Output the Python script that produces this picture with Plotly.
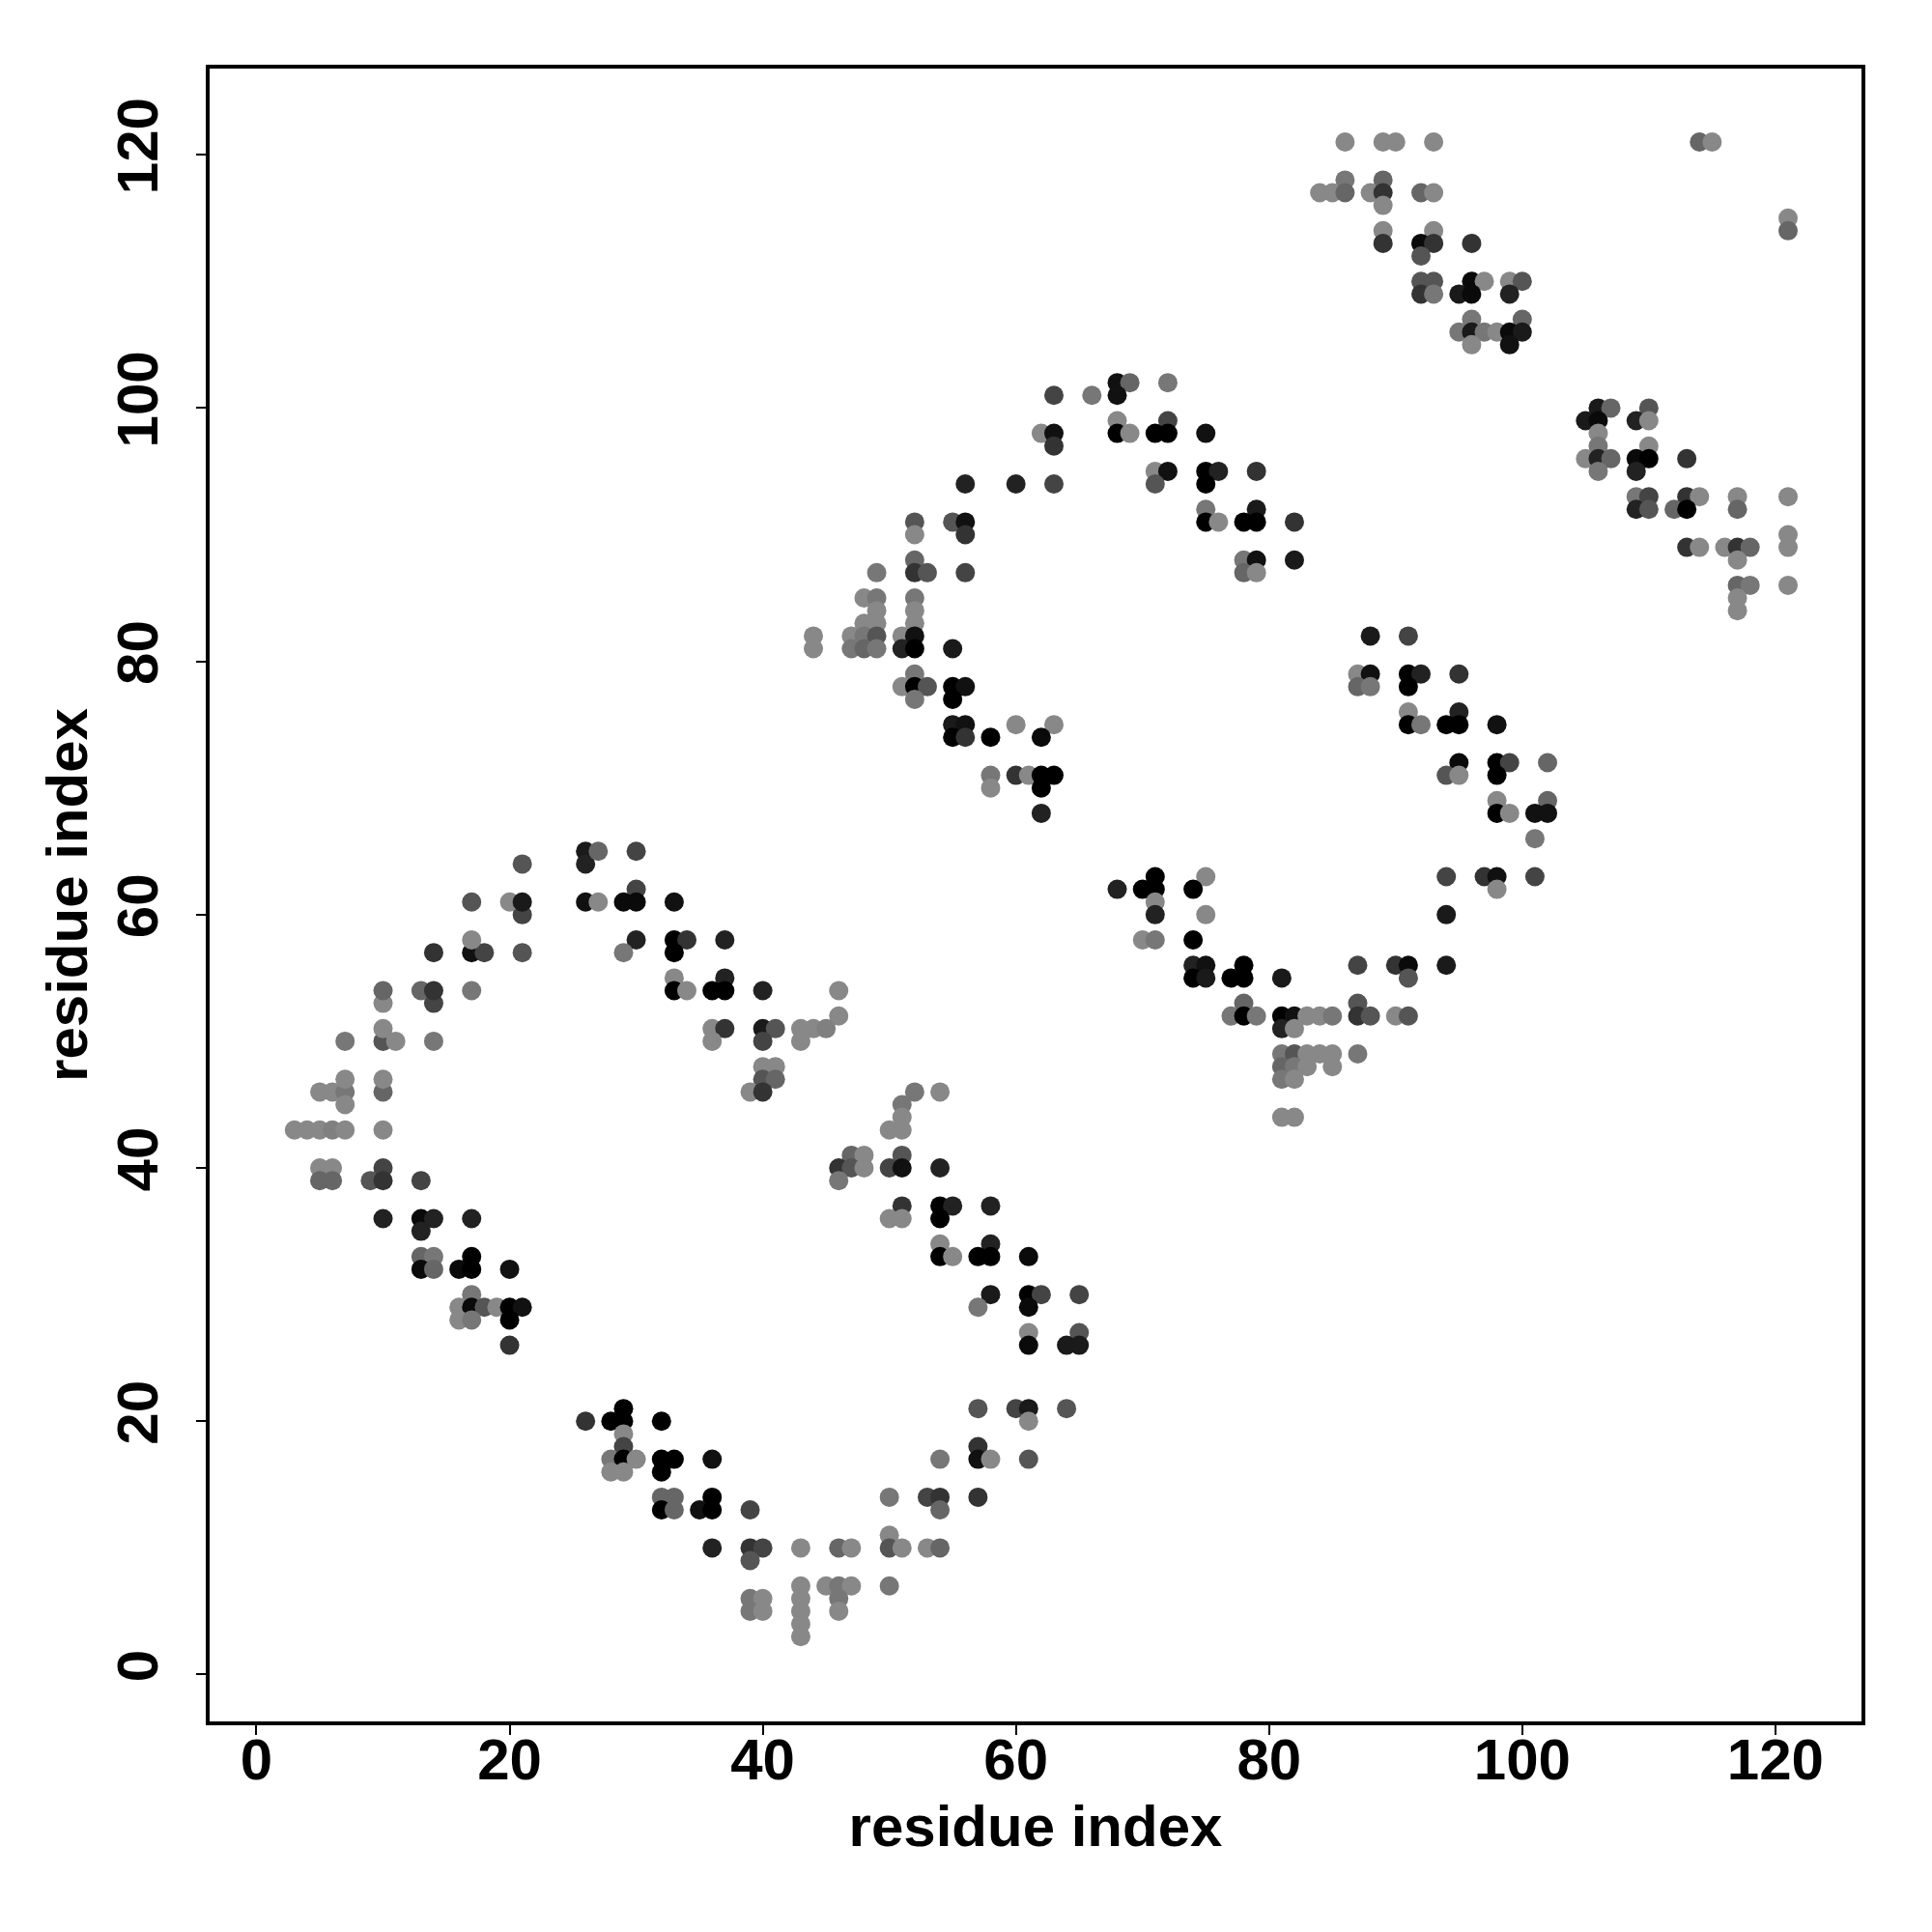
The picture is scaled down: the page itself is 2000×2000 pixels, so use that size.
import plotly.graph_objects as go

# ---- contact points: residue i (x), residue j (y), shade (0 = black ... 8 = light grey) ----
# cluster A (lower-left)
A_i = [3,4,5,6,7,10,
       5,6,7,10, 7,10, 7,
       7,10,11,14, 10,
       10,14, 10,13,14,17,
       14,17,18,21, 17,
       21, 17,20,21,26,
       21, 26,26,
       5,6,10, 5,6,9,10,13,
       10,13,14,17, 13,
       13,14,17, 13,14,16,17,20,
       17, 16,17,18,19,20,21, 16,17,20, 20,
       27,30,30, 27,29,30,33, 30,33,34,37, 29,33, 33,37,
       33,34,36,37,40,46, 46, 36,37,40,41,43,44,45, 36,40,43, 40,41, 40,41, 39,40]
A_j = [43,43,43,43,43,43,
       46,46,46,46, 47,47, 45,
       50,50,50,50, 51,
       53,53, 54,54,54,54,
       57,57,57,57, 58,
       60, 61,61,61,61,
       64, 65,64,
       40,40,40, 39,39,39,39,39,
       36,36,36,36, 35,
       33,33,33, 32,32,32,32,32,
       30, 29,29,29,29,29,29, 28,28,28, 26,
       65,65,62, 61,61,61,61, 58,58,58,58, 57,57, 55,55,
       54,54,54,54,54,54, 52, 51,51,51,51,51,51,51, 50,50,50, 48,48, 47,47, 46,46]
A_s = [8,8,8,7.5,8,8,
       8,8,7,6, 8,8, 8,
       7,5,8,7, 8,
       8,4, 6,6,3,7,
       3,1,4,5, 8,
       4, 5,8,1.5,1,
       5, 1.5,2,
       8,8,4, 6,6,5,3,4,
       2,0.6,2,2, 2,
       6,7,0, 0.6,6,0.6,0,1,
       7, 8,0.6,5,8,0,1, 8,7,0, 3,
       6,4,4, 8,0.6,0.6,1, 2,0,3,2, 7,0, 8,2,
       0,8,0,0,2,8, 8, 8,3,1.5,5,8,8,7.5, 8,4,8, 8,8, 5,6, 8,3]

# cluster B (bottom)
B_i = [29, 26,28,29,32, 29, 29,
       28,29,30,32,33,36, 28,29,32,
       32,33,36, 32,33,35,36,39,
       36,39,40,43, 39,
       43,45, 39,40,43, 39,40,43, 43, 43,
       52,54, 51, 51, 50,51,
       47,48,51, 46,47,48,50,51,54, 46,
       51,54,55,58, 50,51,54, 54,58,
       54,55,57,58,61, 58,61,62,65, 57,61, 61,65, 61,64,65,
       57,60,61,64, 61, 57, 54,57,58,61,
       50,53,54,57, 54, 50, 46,47,50,51,53,54,
       46,47,50, 46, 46]
B_j = [21, 20,20,20,20, 19, 18,
       17,17,17,17,17,17, 16,16,16,
       14,14,14, 13,13,13,13,13,
       10,10,10,10, 9,
       7,7, 6,6,6, 5,5,5, 4, 3,
       46,46, 45, 44, 43,43,
       41,41,41, 40,40,40,40,40,40, 39,
       37,37,37,37, 36,36,36, 34,34,
       33,33,33,33,33, 30,30,30,30, 29,29, 27,27, 26,26,26,
       21,21,21,21, 20, 18, 17,17,17,17,
       14,14,14,14, 13, 11, 10,10,10,10,10,10,
       7,7,7, 6, 5]
B_s = [0, 3,0,0,0, 8, 4,
       7,0,8,0,0,1, 8,8,0,
       6,6,0, 0,6,1,0,4,
       2,3,4,8, 5,
       8,8, 7,8,8, 7,8,8, 8, 8,
       7,8, 7, 8, 8,8,
       6,8,5, 3,5,8,4,1,2, 7,
       3,0,2,2, 8,8,0, 8,2,
       0,8,0,0,0.6, 1.5,0,4,4, 7,0.6, 8,5, 0.6,1.5,1.5,
       5,4,1.5,5, 8, 3, 7,1,8,5,
       7,4,3,3, 6, 8, 6,8,5,8,8,6,
       7,8,7, 7, 8]

# cluster C (middle)
C_i = [63, 62,63, 63, 56,60,63, 52,55,56, 52,56, 52,
       49,52,53,56, 48,49,52, 49,52, 48,49,52,
       44,47,48,49,51,52, 44,47,48,49,51,52,55,
       52, 51,52,53,55,56, 52,55,
       55,56,60,63, 55,56,58,62,
       58,60,61,62,63, 58,62, 62,
       68,69,72, 66,68, 68,72, 68,69,71,72,75,
       71,72,75,76,79, 71,75, 75,79, 75,76,78,79,82,
       78,79,82, 78,79]
C_j = [101, 98,98, 97, 94,94,94, 91,91,91, 90,90, 88,
       87,87,87,87, 85,85,85, 84,84, 83,83,83,
       82,82,82,82,82,82, 81,81,81,81,81,81,81,
       79, 78,78,78,78,78, 77,77,
       75,75,75,75, 74,74,74,74,
       71,71,71,71,71, 70,70, 68,
       102,102,102, 101,101, 99,99, 98,98,98,98,98,
       95,95,95,95,95, 94,94, 92,92, 91,91,91,91,91,
       88,88,88, 87,87]
C_s = [4, 8,1, 3, 2,2,4, 5,5,1, 8,3, 6,
       7,3,5,4, 8,7,7, 8,8, 8,8,8,
       8,8,7,5,8,1, 8,7,6,7,2,0,1.5,
       7, 8,0,5,0,1, 7,0,
       1.5,1,8,8, 0,3,0,0.6,
       7,3,8,0,0, 8,0, 2,
       1,6,7, 7,1, 8,4, 0,8,0,0,1,
       8,1,0,2,3, 5,0, 7,1.5, 0,8,0,0,3,
       7,1,1.5, 6,8]

# cluster D (right-middle)
D_i = [71,75, 68,70,71,74, 71, 71,75, 70,71,74,
       74,75,78, 74,75,77,78,81, 78,
       77,78,79,81,82,83,84,85, 81,82,
       81,82,83,84,85, 81,82,83,85, 81,82, 81,82,
       88,91, 87,88,91,92,95, 87,88,91, 91,95,
       91,92,94,95,98, 95,98,99,102, 94,95,98, 98,102,
       98,99,101,102, 101, 94,97,98,101, 98, 94,
       87,90,91,94, 91, 87, 87,88,90,91, 87]
D_j = [63,63, 62,62,62,62, 61, 60,60, 58,58,58,
       56,56,56, 55,55,55,55,55, 53,
       52,52,52,52,52,52,52,52, 51,51,
       49,49,49,49,49, 48,48,48,48, 47,47, 44,44,
       82,82, 79,79,79,79,79, 78,78,78, 76,76,
       75,75,75,75,75, 72,72,72,72, 71,71,71, 69,69,
       68,68,68,68, 66, 63,63,63,63, 62, 60,
       56,56,56,56, 55, 53, 52,52,52,52, 49]
D_s = [0,8, 2,0,0,0, 8, 2,8, 8,7,0,
       2,1,0, 0,1.5,0,0,1.5, 6,
       7,0,7,0,1,8,8,7, 2,8,
       7,5,8,8,8, 6,7,8,8, 7,8, 8,8,
       1.5,4, 8,1,0,2,3, 6,7,0, 8,2,
       0,7,0,0,1, 0.6,0,4,6, 5,8,0, 8,6,
       0,8,1,1, 7, 4,3,1,4, 8, 1.5,
       4,3,0.6,1.5, 5, 5, 3,5,8,5, 7]

# cluster E (top-right)
E_i = [86,89,90,93, 86,89, 84,85,86,88,89,92,93, 89, 89,93,
       89,92,93,96, 92, 92,93,96,97,99,100, 92,93,95,96,99,
       96,100, 95,96,97,98,99,100, 96,99,
       114,115, 121,121,
       106,107,110, 105,106,109,110, 106, 106,110,
       105,106,107,109,110,113, 106,109,
       109,110,113,114,117,121, 109,110,112,113,117, 121,
       113,114,116,117,118,121, 117, 117,118,121, 117, 117]
E_j = [121,121,121,121, 118,118, 117,117,117,117,117,117,117, 116, 114,114,
       113,113,113,113, 112, 110,110,110,110,110,110, 109,109,109,109,109,
       107,107, 106,106,106,106,106,106, 105,105,
       121,121, 115,114,
       100,100,100, 99,99,99,99, 98, 97,97,
       96,96,96,96,96,96, 95,95,
       93,93,93,93,93,93, 92,92,92,92,92, 90,
       89,89,89,89,89,89, 88, 86,86,86, 85, 84]
E_s = [8,8,8,8, 7,6, 8,8,6,8,3,6,8, 8, 8,8,
       3,0.6,3,3, 5, 5,5,0.6,8,8,5, 3,7,1.5,0.6,2,
       7,6, 7,1.5,7,8,0.6,1.5, 8,1,
       6,8, 8,6,
       1.5,6,5, 1.5,0.6,2,8, 8, 7,8,
       8,2,6,0.6,0,3, 7,2,
       7,4,3,8,8,8, 2,5,6,0,6, 8,
       3,8,8,3,6,8, 8, 6,7,8, 8, 8]

tick_vals = [0, 20, 40, 60, 80, 100, 120]
axis_title = "residue index"

clusters = [(A_i, A_j, A_s), (B_i, B_j, B_s), (C_i, C_j, C_s),
            (D_i, D_j, D_s), (E_i, E_j, E_s)]
xs, ys, ss = [], [], []
for k, (ci, cj, cs) in enumerate(clusters):
    if not (len(ci) == len(cj) == len(cs)):
        raise ValueError(f"cluster {k}: {len(ci)} {len(cj)} {len(cs)}")
    xs += ci
    ys += cj
    ss += cs

fig = go.Figure(go.Scatter(
    x=xs, y=ys, mode="markers",
    marker=dict(size=20, color=ss, cmin=0, cmax=8,
                colorscale=[[0, "#000000"], [1, "#888888"]],
                line=dict(width=0), showscale=False),
    hoverinfo="x+y",
))

font_fam = "Liberation Sans, Arial, Helvetica, sans-serif"
axis_common = dict(
    tickvals=tick_vals, ticks="outside", ticklen=10, tickwidth=2, tickcolor="black",
    showline=True, mirror=True, linewidth=4, linecolor="black",
    showgrid=False, zeroline=False,
    tickfont=dict(family=font_fam, size=60, color="black", weight="bold"),
)

fig.update_layout(
    width=2000, height=2000,
    margin=dict(l=209, r=81, t=63, b=226),
    paper_bgcolor="white", plot_bgcolor="white",
    showlegend=False,
    xaxis=dict(range=[-3.7, 126.8], ticklabelstandoff=-26, **axis_common,
               title=dict(text=axis_title, standoff=16,
                          font=dict(family=font_fam, size=60, color="black", weight="bold"))),
    yaxis=dict(range=[-3.7, 126.8], tickangle=-90, ticklabelstandoff=16, **axis_common,
               title=dict(text=axis_title, standoff=0,
                          font=dict(family=font_fam, size=60, color="black", weight="bold"))),
)

fig.write_html("out.html")
